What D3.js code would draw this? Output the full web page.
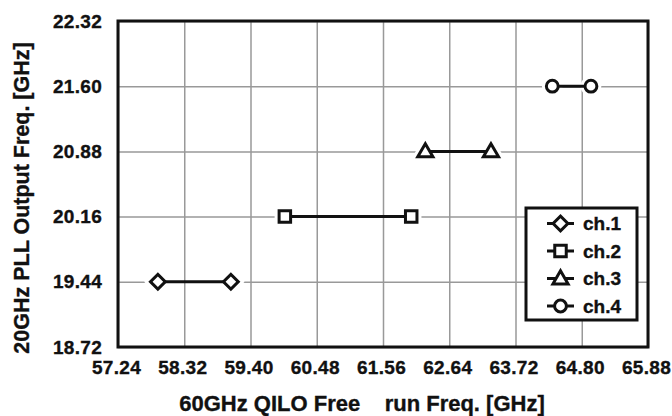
<!DOCTYPE html>
<html>
<head>
<meta charset="utf-8">
<script src="https://cdn.jsdelivr.net/npm/d3@7"></script>
<style>
  html, body { margin: 0; padding: 0; background: #fff; }
  svg { display: block; }
  text { font-family: "Liberation Sans", Arial, sans-serif; font-weight: bold; fill: #111; stroke: #111; stroke-width: 0.35px; }
</style>
</head>
<body>
<svg id="chart" width="672" height="416"></svg>
<script>
const channels = ["ch.1", "ch.2", "ch.3", "ch.4"];
const startFreq = [57.89, 59.96, 62.25, 64.32];
const endFreq = [59.08, 62.02, 63.32, 64.95];
const pllFreq = [19.44, 20.16, 20.88, 21.60];
const markerShapes = ["diamond", "square", "triangle", "circle"];
const xTicks = [57.24, 58.32, 59.40, 60.48, 61.56, 62.64, 63.72, 64.80, 65.88];
const yTicks = [18.72, 19.44, 20.16, 20.88, 21.60, 22.32];
const xTitle = "60GHz QILO Free    run Freq. [GHz]";
const yTitle = "20GHz PLL Output Freq. [GHz]";

const svg = d3.select("#chart");
const L = 118, R = 648, T = 21, B = 347;
const x = d3.scaleLinear().domain([57.24, 65.88]).range([L, R]);
const y = d3.scaleLinear().domain([18.72, 22.32]).range([B, T]);

// grid
const gx = svg.append("g").attr("transform", `translate(0,${B})`)
  .call(d3.axisBottom(x).tickValues(xTicks).tickSize(-(B - T)).tickFormat(""));
gx.select(".domain").remove();
gx.selectAll("line").attr("stroke", "#999").attr("stroke-width", 1.5);
const gy = svg.append("g").attr("transform", `translate(${L},0)`)
  .call(d3.axisLeft(y).tickValues(yTicks).tickSize(-(R - L)).tickFormat(""));
gy.select(".domain").remove();
gy.selectAll("line").attr("stroke", "#999").attr("stroke-width", 1.5);

// frame
svg.append("rect").attr("x", L).attr("y", T).attr("width", R - L).attr("height", B - T)
  .attr("fill", "none").attr("stroke", "#111").attr("stroke-width", 3);

// tick labels
const xl = svg.append("g").attr("transform", `translate(0,${B + 13})`)
  .call(d3.axisBottom(x).tickValues(xTicks).tickSize(0).tickFormat(d3.format(".2f")));
xl.select(".domain").remove();
xl.selectAll("text").attr("y", 0).attr("dy", "0.74em").attr("dx", -2)
  .style("font-size", "19px").style("letter-spacing", "0.3px")
  .style("font-family", "Liberation Sans, Arial, sans-serif").style("font-weight", "bold").attr("fill", "#111");
const yl = svg.append("g").attr("transform", `translate(${L - 16},0)`)
  .call(d3.axisLeft(y).tickValues(yTicks).tickSize(0).tickFormat(d3.format(".2f")));
yl.select(".domain").remove();
yl.selectAll("text").attr("x", 0)
  .style("font-size", "19px").style("letter-spacing", "0.3px")
  .style("font-family", "Liberation Sans, Arial, sans-serif").style("font-weight", "bold").attr("fill", "#111");

// titles
svg.append("text").attr("x", 362).attr("y", 411).attr("text-anchor", "middle")
  .style("font-size", "22px").style("white-space", "pre").attr("xml:space", "preserve").text(xTitle);
svg.append("text").attr("transform", "translate(29,198) rotate(-90)").attr("text-anchor", "middle")
  .style("font-size", "21.5px").text(yTitle);

function symbolPath(shape) {
  if (shape === "diamond") return d3.symbol().type(d3.symbolSquare).size(110)();
  if (shape === "square") return d3.symbol().type(d3.symbolSquare).size(132)();
  if (shape === "triangle") return d3.symbol().type(d3.symbolTriangle).size(100)();
  return d3.symbol().type(d3.symbolCircle).size(110)();
}
function markerTransform(shape, cx, cy) {
  const rot = shape === "diamond" ? " rotate(45)" : "";
  const dy = shape === "triangle" ? 1 : 0;
  return `translate(${cx},${cy + dy})${rot}`;
}
function drawHalo(g, shape, cx, cy) {
  g.append("path").attr("d", symbolPath(shape)).attr("transform", markerTransform(shape, cx, cy))
    .attr("fill", "#fff").attr("stroke", "#fff").attr("stroke-width", 9);
}
function drawMarker(g, shape, cx, cy) {
  g.append("path").attr("d", symbolPath(shape)).attr("transform", markerTransform(shape, cx, cy))
    .attr("fill", "#fff").attr("stroke", "#111").attr("stroke-width", 3);
}

// series
const series = svg.append("g");
channels.forEach((c, i) => {
  drawHalo(series, markerShapes[i], x(startFreq[i]), y(pllFreq[i]));
  drawHalo(series, markerShapes[i], x(endFreq[i]), y(pllFreq[i]));
});
channels.forEach((c, i) => {
  series.append("line").attr("x1", x(startFreq[i])).attr("x2", x(endFreq[i]))
    .attr("y1", y(pllFreq[i])).attr("y2", y(pllFreq[i])).attr("stroke", "#111").attr("stroke-width", 3);
});
channels.forEach((c, i) => {
  drawMarker(series, markerShapes[i], x(startFreq[i]), y(pllFreq[i]));
  drawMarker(series, markerShapes[i], x(endFreq[i]), y(pllFreq[i]));
});

// legend
const lg = svg.append("g");
lg.append("rect").attr("x", 526).attr("y", 208).attr("width", 111).attr("height", 112)
  .attr("fill", "#fff").attr("stroke", "#111").attr("stroke-width", 3);
channels.forEach((c, i) => {
  const ly = 223.5 + i * 27.5;
  lg.append("line").attr("x1", 547).attr("x2", 574).attr("y1", ly).attr("y2", ly)
    .attr("stroke", "#111").attr("stroke-width", 3);
  drawMarker(lg, markerShapes[i], 560.5, ly);
  lg.append("text").attr("x", 583).attr("y", ly).attr("dy", "0.36em").style("font-size", "19px").text(c);
});
</script>
</body>
</html>
